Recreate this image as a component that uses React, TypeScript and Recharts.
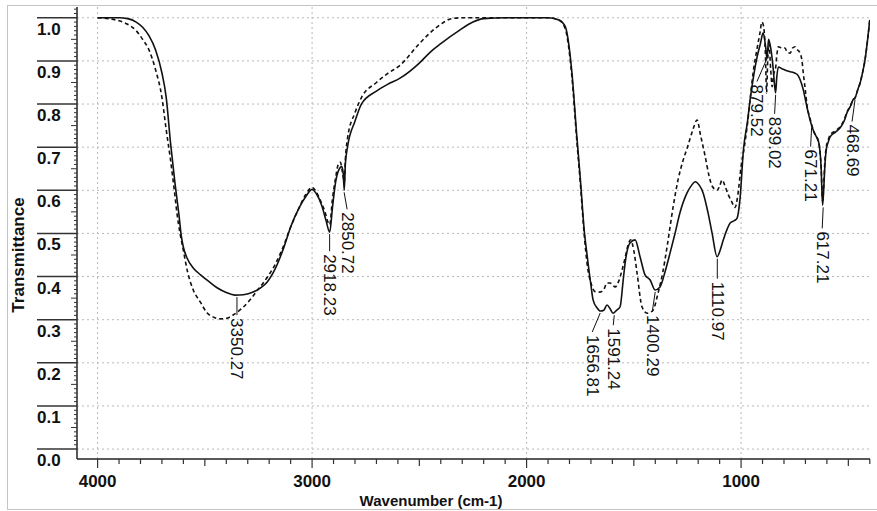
import React from 'react';
import { LineChart, Line, XAxis, YAxis, ReferenceLine, ReferenceDot } from 'recharts';

// [wavenumber, transmittance]
const solidSpectrum: [number, number][] = [
  [4000, 1.0], [3900, 1.0], [3860, 0.998], [3820, 0.99], [3790, 0.978], [3760, 0.958],
  [3730, 0.926], [3700, 0.872], [3680, 0.815], [3660, 0.71], [3640, 0.62], [3620, 0.54],
  [3610, 0.495], [3600, 0.468], [3583, 0.443], [3554, 0.42], [3520, 0.404], [3480, 0.388],
  [3443, 0.374], [3400, 0.363], [3360, 0.357], [3320, 0.358], [3275, 0.364], [3240, 0.374],
  [3210, 0.387], [3170, 0.42], [3130, 0.47], [3100, 0.515], [3060, 0.56], [3030, 0.585],
  [3000, 0.602], [2980, 0.592], [2955, 0.565], [2935, 0.53], [2918, 0.503], [2905, 0.56],
  [2890, 0.62], [2875, 0.648], [2862, 0.655], [2855, 0.64], [2850, 0.6], [2845, 0.66],
  [2835, 0.7], [2800, 0.76], [2770, 0.8], [2700, 0.83], [2650, 0.845], [2590, 0.86],
  [2500, 0.895], [2450, 0.92], [2400, 0.94], [2310, 0.972], [2250, 0.99], [2200, 0.998],
  [2100, 1.0], [2000, 1.0], [1900, 1.0], [1850, 0.995], [1820, 0.98], [1790, 0.88],
  [1765, 0.72], [1750, 0.63], [1730, 0.5], [1718, 0.45], [1700, 0.38], [1690, 0.346],
  [1671, 0.327], [1656, 0.32], [1640, 0.322], [1625, 0.334], [1610, 0.325], [1597, 0.315],
  [1580, 0.322], [1564, 0.33], [1550, 0.39], [1541, 0.43], [1518, 0.478], [1494, 0.485],
  [1471, 0.446], [1448, 0.404], [1424, 0.392], [1401, 0.369], [1378, 0.376], [1355, 0.41],
  [1331, 0.455], [1308, 0.5], [1285, 0.548], [1252, 0.594], [1230, 0.612], [1214, 0.62],
  [1195, 0.612], [1177, 0.594], [1155, 0.55], [1135, 0.5], [1112, 0.446], [1095, 0.465],
  [1083, 0.485], [1065, 0.51], [1051, 0.524], [1030, 0.53], [1019, 0.535], [1005, 0.58],
  [989, 0.694], [970, 0.76], [958, 0.81], [940, 0.87], [928, 0.903], [910, 0.94],
  [897, 0.965], [885, 0.93], [879, 0.905], [872, 0.95], [862, 0.93], [850, 0.88],
  [845, 0.85], [839, 0.826], [834, 0.86], [826, 0.886], [810, 0.882], [790, 0.878],
  [771, 0.875], [750, 0.872], [734, 0.866], [720, 0.85], [710, 0.833], [700, 0.81],
  [687, 0.78], [671, 0.75], [664, 0.74], [650, 0.725], [641, 0.717], [632, 0.69],
  [627, 0.655], [620, 0.565], [615, 0.6], [609, 0.66], [603, 0.694], [595, 0.71],
  [585, 0.724], [560, 0.735], [538, 0.745], [520, 0.76], [506, 0.78], [490, 0.795],
  [478, 0.81], [468, 0.815], [455, 0.835], [445, 0.849], [435, 0.87], [422, 0.903],
  [410, 0.95], [400, 0.995],
];

const dashedSpectrum: [number, number][] = [
  [4000, 1.0], [3950, 0.998], [3900, 0.993], [3860, 0.985], [3820, 0.97], [3790, 0.95],
  [3760, 0.925], [3730, 0.88], [3700, 0.815], [3680, 0.74], [3662, 0.678], [3640, 0.59],
  [3630, 0.547], [3600, 0.46], [3580, 0.41], [3554, 0.369], [3520, 0.34], [3490, 0.316],
  [3460, 0.306], [3429, 0.302], [3400, 0.303], [3368, 0.311], [3330, 0.325], [3289, 0.346],
  [3260, 0.365], [3228, 0.385], [3200, 0.405], [3170, 0.43], [3130, 0.475], [3100, 0.515],
  [3060, 0.56], [3030, 0.59], [3000, 0.607], [2985, 0.6], [2960, 0.575], [2940, 0.55],
  [2925, 0.525], [2918, 0.52], [2905, 0.58], [2890, 0.63], [2878, 0.66], [2868, 0.665],
  [2858, 0.64], [2850, 0.62], [2845, 0.67], [2835, 0.72], [2800, 0.78], [2770, 0.815],
  [2700, 0.85], [2650, 0.87], [2590, 0.89], [2500, 0.94], [2450, 0.965], [2400, 0.985],
  [2350, 0.998], [2300, 1.0], [2000, 1.0], [1900, 1.0], [1850, 0.995], [1820, 0.975],
  [1790, 0.87], [1765, 0.71], [1750, 0.62], [1730, 0.49], [1718, 0.43], [1700, 0.385],
  [1680, 0.365], [1657, 0.364], [1640, 0.37], [1625, 0.385], [1611, 0.385], [1587, 0.376],
  [1570, 0.39], [1555, 0.415], [1540, 0.445], [1527, 0.473], [1515, 0.485], [1500, 0.46],
  [1485, 0.408], [1462, 0.33], [1438, 0.315], [1420, 0.318], [1410, 0.322], [1387, 0.362],
  [1365, 0.41], [1345, 0.469], [1317, 0.561], [1294, 0.624], [1270, 0.67], [1250, 0.7],
  [1225, 0.74], [1205, 0.763], [1190, 0.73], [1168, 0.68], [1150, 0.635], [1135, 0.61],
  [1112, 0.6], [1100, 0.61], [1088, 0.624], [1075, 0.61], [1060, 0.59], [1045, 0.575],
  [1028, 0.56], [1015, 0.59], [1000, 0.655], [985, 0.7], [972, 0.747], [958, 0.81],
  [944, 0.872], [925, 0.93], [912, 0.965], [903, 0.99], [895, 0.98], [887, 0.92],
  [881, 0.826], [876, 0.9], [870, 0.94], [862, 0.88], [855, 0.84], [848, 0.87],
  [840, 0.88], [833, 0.915], [826, 0.933], [810, 0.93], [795, 0.93], [785, 0.92],
  [771, 0.918], [760, 0.93], [748, 0.933], [736, 0.925], [725, 0.918], [716, 0.9],
  [710, 0.872], [700, 0.83], [692, 0.794], [680, 0.77], [671, 0.752], [664, 0.74],
  [650, 0.725], [641, 0.715], [632, 0.69], [627, 0.655], [620, 0.575], [615, 0.61],
  [609, 0.67], [603, 0.7], [595, 0.715], [585, 0.728], [560, 0.738], [538, 0.748],
  [520, 0.763], [506, 0.782], [490, 0.797], [478, 0.81], [468, 0.815], [455, 0.835],
  [445, 0.849], [435, 0.87], [422, 0.903], [410, 0.95], [400, 0.995],
];

// peak picks: position, curve value at the pick, label text
const peakWavenumbers = [3350.27, 2918.23, 2850.72, 1656.81, 1591.24, 1400.29, 1110.97, 879.52, 839.02, 671.21, 617.21, 468.69];
const peakValues = [0.357, 0.503, 0.6, 0.32, 0.315, 0.369, 0.446, 0.91, 0.826, 0.75, 0.565, 0.815];
const peakLabels = ['3350.27', '2918.23', '2850.72', '1656.81', '1591.24', '1400.29', '1110.97', '879.52', '839.02', '671.21', '617.21', '468.69'];
// leader offsets (px)
const peakShift = [0, 0, 3, -8, -1, -3, 0, -10, -1, -1, -1, -3];
const peakLeader = [20, 19, 19, 21, 12, 22, 22, 25, 21, 21, 23, 24];

const xMajorTicks = [4000, 3000, 2000, 1000];
const yMajorTicks = [0, 0.1, 0.2, 0.3, 0.4, 0.5, 0.6, 0.7, 0.8, 0.9, 1.0];

const xTicks: number[] = [];
for (let w = 400; w <= 4000; w += 100) xTicks.push(w);
const yTicks: number[] = [];
for (let i = 0; i <= 102; i++) yTicks.push(i / 100);

const solidData = solidSpectrum.map(([wn, t]) => ({ wn, t }));
const dashedData = dashedSpectrum.map(([wn, t]) => ({ wn, t }));

const FONT = '"Liberation Sans", Arial, sans-serif';

function XTick(props: any) {
  const { x, y, payload } = props;
  const v = payload.value as number;
  const major = xMajorTicks.includes(v);
  const len = major ? 9 : v % 500 === 0 ? 7 : 5;
  return (
    <g>
      <line x1={x} x2={x} y1={y} y2={y + len} stroke="#333" strokeWidth={1.2} />
      {major && (
        <text x={x} y={y + 28} textAnchor="middle" fontSize={17} fontWeight="bold" fontFamily={FONT} fill="#111">
          {v}
        </text>
      )}
    </g>
  );
}

function YTick(props: any) {
  const { x, y, payload } = props;
  const k = Math.round((payload.value as number) * 100);
  if (k % 10 === 0) {
    return (
      <g>
        <line x1={x - 40} x2={x} y1={y} y2={y} stroke="#333" strokeWidth={1.5} />
        <text x={x - 40} y={y + 17} textAnchor="start" fontSize={17} fontWeight="bold" fontFamily={FONT} fill="#111">
          {(k / 100).toFixed(1)}
        </text>
      </g>
    );
  }
  const len = k % 5 === 0 ? 6 : 3;
  return <line x1={x - len} x2={x} y1={y} y2={y} stroke="#333" strokeWidth={1} />;
}

function PeakMark(props: any) {
  const { cx, cy, text, shift, leader } = props;
  const tx = cx + shift;
  const ty = cy + leader + 3;
  return (
    <g>
      <line x1={cx} y1={cy + 2} x2={tx} y2={cy + leader} stroke="#111" strokeWidth={1} />
      <text
        x={tx}
        y={ty}
        transform={`rotate(90 ${tx} ${ty})`}
        textAnchor="start"
        dominantBaseline="central"
        fontSize={17}
        fontFamily={FONT}
        fill="#111"
      >
        {text}
      </text>
    </g>
  );
}

export default function App() {
  return (
    <div style={{ position: 'absolute', left: 0, top: 0, width: 877, height: 511, background: '#fff', fontFamily: FONT }}>
      <div style={{ position: 'absolute', left: 7, top: 5, width: 875, height: 503, border: '1px solid #c4c4c4' }} />
      <LineChart width={877} height={511} margin={{ top: 7, right: 7, left: 17, bottom: 12 }}>
        <XAxis
          type="number"
          dataKey="wn"
          domain={[399, 4096]}
          reversed
          allowDataOverflow
          ticks={xTicks}
          interval={0}
          tick={<XTick />}
          tickLine={false}
          tickSize={0}
          tickMargin={0}
          height={40}
          axisLine={{ stroke: '#222', strokeWidth: 1.5 }}
        />
        <YAxis
          type="number"
          dataKey="t"
          domain={[-0.023, 1.025]}
          allowDataOverflow
          ticks={yTicks}
          interval={0}
          tick={<YTick />}
          tickLine={false}
          tickSize={0}
          tickMargin={0}
          width={60}
          axisLine={{ stroke: '#222', strokeWidth: 1.5 }}
        />
        {yMajorTicks.map((v) => (
          <ReferenceLine key={'gy' + v} y={v} stroke="#b8b8b8" strokeDasharray="2 3" strokeWidth={1} />
        ))}
        {xMajorTicks.map((v) => (
          <ReferenceLine key={'gx' + v} x={v} stroke="#b8b8b8" strokeDasharray="2 3" strokeWidth={1} />
        ))}
        <Line
          data={dashedData}
          dataKey="t"
          type="monotone"
          stroke="#111"
          strokeWidth={1.6}
          strokeDasharray="4 3"
          dot={false}
          isAnimationActive={false}
        />
        <Line
          data={solidData}
          dataKey="t"
          type="monotone"
          stroke="#111"
          strokeWidth={1.6}
          dot={false}
          isAnimationActive={false}
        />
        {peakWavenumbers.map((wn, i) => (
          <ReferenceDot
            key={peakLabels[i]}
            x={wn}
            y={peakValues[i]}
            r={0}
            ifOverflow="visible"
            shape={(p: any) => (
              <PeakMark cx={p.cx} cy={p.cy} text={peakLabels[i]} shift={peakShift[i]} leader={peakLeader[i]} />
            )}
          />
        ))}
      </LineChart>
      <svg width={877} height={511} style={{ position: 'absolute', left: 0, top: 0, pointerEvents: 'none' }}>
        <text
          x={18}
          y={255}
          transform="rotate(-90 18 255)"
          textAnchor="middle"
          dominantBaseline="central"
          fontSize={17}
          fontWeight="bold"
          fontFamily={FONT}
          fill="#111"
        >
          Transmittance
        </text>
        <text x={431} y={506} textAnchor="middle" fontSize={15} fontWeight="bold" fontFamily={FONT} fill="#111">
          Wavenumber (cm-1)
        </text>
      </svg>
    </div>
  );
}
